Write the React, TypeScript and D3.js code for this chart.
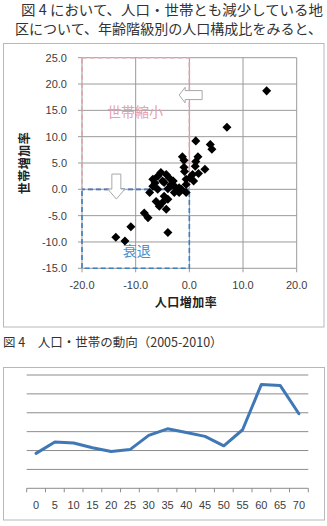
import * as d3 from "d3";
import React from "react";

// scatter: population growth rate (x) vs household growth rate (y), 2005-2010
const popRate = [
  14.4, 7.0, 1.2, 3.9, 4.2, -1.3, -1.0, 1.6, 1.2, -1.0, 1.1, 2.9, -0.9, 0.6, 1.7,
  -4.3, -3.7, -5.0, -3.4, -0.6, -0.6, 0.1, -1.9, -4.0, -0.6, -6.8, -5.9, -5.3,
  -7.4, -6.8, -5.9, -4.7, -6.2, -5.6, -4.7, -4.3, -8.4, -7.7, -10.9, -13.7,
  -12.0, -4.0, -5.0, -4.0, -2.8, -1.9, -3.0, -2.5, -6.4, 0.8, -2.8, -1.9, -1.5,
];
const hhRate = [
  18.7, 11.8, 9.2, 8.5, 7.6, 6.2, 5.5, 6.2, 5.3, 4.2, 4.4, 3.8, 3.4, 2.8, 3.0,
  2.8, 2.1, 1.6, 0.9, 0.9, 1.9, 2.2, 0.0, 0.1, -0.6, 0.6, 2.5, 3.2, -0.6, 1.9,
  0.0, 1.3, -2.3, -3.2, -1.3, -3.8, -4.5, -5.4, -7.1, -9.1, -9.8, -8.2, -2.5,
  -1.9, -0.6, -0.6, 1.6, 0.3, 1.2, 1.6, 0.6, 0.3, 0.0,
];
const xTicks = [-20, -10, 0, 10, 20];
const yTicks = [-15, -10, -5, 0, 5, 10, 15, 20, 25];

// line chart: population share by age class
const ageLabels = ["0", "5", "10", "15", "20", "25", "30", "35", "40", "45", "50", "55", "60", "65", "70"];
const ageShare = [3.7, 4.9, 4.8, 4.3, 3.9, 4.1, 5.6, 6.3, 5.9, 5.5, 4.5, 6.2, 11.0, 10.9, 7.9];
const shareTicks = [2, 4, 6, 8, 10, 12];

const bodyLines = [
  "図 4 において、人口・世帯とも減少している地",
  "区について、年齢階級別の人口構成比をみると、",
];
const caption = "図 4　人口・世帯の動向（2005-2010）";

const JP = "'Noto Sans CJK JP', sans-serif";
const NUM = "'Liberation Sans', Arial, sans-serif";

export default function App() {
  const W = 327;
  const H = 526;

  const x = d3.scaleLinear().domain([-20, 20]).range([82, 296.7]);
  const y = d3.scaleLinear().domain([-15, 25]).range([268.3, 57.7]);

  const diamond = d3.symbol(d3.symbolDiamond2, 52)() as string;

  const xb = d3.scaleBand().domain(ageLabels).range([26.7, 308.3]);
  const ys = d3.scaleLinear().domain([0, 12]).range([488.3, 375]);
  const line = d3
    .line<number>()
    .x((_, i) => (xb(ageLabels[i]) as number) + xb.bandwidth() / 2)
    .y((d) => ys(d));

  // block arrows (white with grey outline)
  const lx = x(-1.9);
  const ly = y(17.9);
  const leftArrow = `M${lx},${ly} l6,-7.8 v3.3 h17 v9 h-17 v3.3 z`;
  const dx = x(-13.6);
  const dy = y(-1.85);
  const downArrow = `M${dx},${dy} l-8.5,-10 h4 v-15 h9 v15 h4 z`;

  return (
    <svg width={W} height={H} style={{ position: "absolute", left: 0, top: 0, background: "#fff" }}>
      {bodyLines.map((t, i) => (
        <text
          key={i}
          x={i === 0 ? 21 : 15}
          y={i === 0 ? 15 : 34}
          fontFamily={JP}
          fontSize={14}
          fill="#333"
          textLength={i === 1 ? 307 : 302}
          lengthAdjust="spacingAndGlyphs"
        >
          {t}
        </text>
      ))}

      {/* scatter chart frame */}
      <rect x={3.5} y={43.5} width={320.5} height={283.5} fill="#fff" stroke="#b8b8b8" strokeWidth={1} />

      {/* grid */}
      {yTicks.map((t) => (
        <line key={"gy" + t} x1={x(-20)} x2={x(20)} y1={y(t)} y2={y(t)} stroke="#9a9a9a" strokeWidth={1} />
      ))}
      {xTicks.map((t) => (
        <line key={"gx" + t} x1={x(t)} x2={x(t)} y1={y(-15)} y2={y(25)} stroke="#9a9a9a" strokeWidth={1} />
      ))}
      {/* tick marks */}
      {yTicks.map((t) => (
        <line key={"ty" + t} x1={x(-20) - 4} x2={x(-20)} y1={y(t)} y2={y(t)} stroke="#9a9a9a" />
      ))}
      {xTicks.map((t) => (
        <line key={"tx" + t} x1={x(t)} x2={x(t)} y1={y(-15)} y2={y(-15) + 4} stroke="#9a9a9a" />
      ))}

      {/* dashed quadrant boxes */}
      <rect
        x={x(-20)}
        y={y(25)}
        width={x(0) - x(-20)}
        height={y(0) - y(25)}
        fill="none"
        stroke="#e2a3ad"
        strokeWidth={1.6}
        strokeDasharray="5 3"
      />
      <rect
        x={x(-20)}
        y={y(0)}
        width={x(0) - x(-20)}
        height={y(-15) - y(0)}
        fill="none"
        stroke="#3d7fc1"
        strokeWidth={1.6}
        strokeDasharray="5 3"
        strokeDashoffset={2}
      />

      {/* points */}
      {popRate.map((v, i) => (
        <path key={"p" + i} d={diamond} transform={`translate(${x(v)},${y(hhRate[i])})`} fill="#000" />
      ))}

      <path d={leftArrow} fill="#fff" stroke="#a8a8a8" strokeWidth={1} />
      <path d={downArrow} fill="#fff" stroke="#a8a8a8" strokeWidth={1} />

      <text x={x(-10.1)} y={y(14.6)} dy="0.35em" textAnchor="middle" fontFamily={JP} fontSize={14} fill="#e8a0ac">
        世帯縮小
      </text>
      <text x={x(-9.8)} y={y(-11.7)} dy="0.35em" textAnchor="middle" fontFamily={JP} fontSize={14} fill="#4a90d0">
        衰退
      </text>

      {/* tick labels */}
      {yTicks.map((t) => (
        <text key={"ly" + t} x={67} y={y(t)} dy="0.35em" textAnchor="end" fontFamily={NUM} fontSize={11} fill="#404040">
          {t.toFixed(1)}
        </text>
      ))}
      {xTicks.map((t) => (
        <text key={"lx" + t} x={x(t)} y={y(-15) + 17} dy="0.35em" textAnchor="middle" fontFamily={NUM} fontSize={11} fill="#404040">
          {t.toFixed(1)}
        </text>
      ))}

      {/* axis titles */}
      <text x={186} y={303} dy="0.35em" textAnchor="middle" fontFamily={JP} fontWeight="bold" fontSize={12} fill="#222" letterSpacing={0.5}>
        人口増加率
      </text>
      <text
        transform={`translate(25,${(y(25) + y(-15)) / 2}) rotate(-90)`}
        dy="0.35em"
        textAnchor="middle"
        fontFamily={JP}
        fontWeight="bold"
        fontSize={12}
        fill="#222"
        letterSpacing={0.5}
      >
        世帯増加率
      </text>

      <text x={3} y={343} dy="0.35em" fontFamily={JP} fontSize={12.5} fill="#333" style={{ whiteSpace: "pre" }}>
        {caption}
      </text>

      {/* line chart frame */}
      <rect x={3.5} y={367.5} width={321} height={152.5} fill="#fff" stroke="#b8b8b8" strokeWidth={1} />
      {shareTicks.map((t) => (
        <line key={"sg" + t} x1={26.7} x2={308.3} y1={ys(t)} y2={ys(t)} stroke="#8c8c8c" strokeWidth={1} />
      ))}
      <line x1={26.7} x2={308.3} y1={ys(0)} y2={ys(0)} stroke="#8c8c8c" strokeWidth={1} />
      {ageLabels.map((a) => (
        <line key={"at" + a} x1={xb(a)} x2={xb(a)} y1={ys(0)} y2={ys(0) + 4} stroke="#8c8c8c" />
      ))}
      <line x1={308.3} x2={308.3} y1={ys(0)} y2={ys(0) + 4} stroke="#8c8c8c" />
      {ageLabels.map((a) => (
        <text
          key={"al" + a}
          x={(xb(a) as number) + xb.bandwidth() / 2}
          y={505}
          dy="0.35em"
          textAnchor="middle"
          fontFamily={NUM}
          fontSize={11}
          fill="#404040"
        >
          {a}
        </text>
      ))}
      <path d={line(ageShare) as string} fill="none" stroke="#3f78b5" strokeWidth={3} strokeLinejoin="round" strokeLinecap="round" />
    </svg>
  );
}
